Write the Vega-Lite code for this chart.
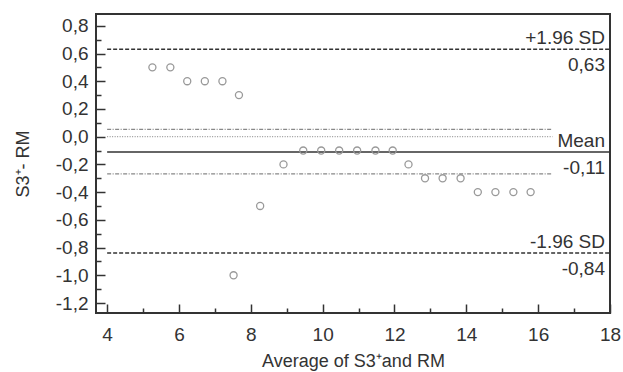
{
  "$schema": "https://vega.github.io/schema/vega-lite/v6.json",
  "width": 514,
  "height": 299,
  "autosize": {"type": "none"},
  "padding": {"left": 96, "top": 14, "right": 13, "bottom": 59},
  "background": "white",
  "config": {
    "view": {"stroke": "#333", "strokeWidth": 2},
    "font": "Liberation Sans",
    "axis": {
      "grid": false,
      "domain": false,
      "labelFont": "Liberation Sans",
      "titleFont": "Liberation Sans",
      "labelFontSize": 19,
      "titleFontSize": 18,
      "titleFontWeight": "normal",
      "labelColor": "#333",
      "titleColor": "#333",
      "tickColor": "#333",
      "tickWidth": 1.5,
      "labelOverlap": false
    }
  },
  "datasets": {
    "points": [
      {"avg": 5.26, "diff": 0.5},
      {"avg": 5.76, "diff": 0.5},
      {"avg": 6.23, "diff": 0.4},
      {"avg": 6.72, "diff": 0.4},
      {"avg": 7.21, "diff": 0.4},
      {"avg": 7.67, "diff": 0.3},
      {"avg": 7.52, "diff": -1.0},
      {"avg": 8.26, "diff": -0.5},
      {"avg": 8.91, "diff": -0.2},
      {"avg": 9.46, "diff": -0.1},
      {"avg": 9.96, "diff": -0.1},
      {"avg": 10.46, "diff": -0.1},
      {"avg": 10.96, "diff": -0.1},
      {"avg": 11.47, "diff": -0.1},
      {"avg": 11.95, "diff": -0.1},
      {"avg": 12.39, "diff": -0.2},
      {"avg": 12.85, "diff": -0.3},
      {"avg": 13.34, "diff": -0.3},
      {"avg": 13.84, "diff": -0.3},
      {"avg": 14.32, "diff": -0.4},
      {"avg": 14.81, "diff": -0.4},
      {"avg": 15.31, "diff": -0.4},
      {"avg": 15.79, "diff": -0.4}
    ],
    "lines": [
      {"kind": "loa", "x1": 4, "x2": 18, "y": 0.63},
      {"kind": "loa", "x1": 4, "x2": 18, "y": -0.84},
      {"kind": "mean", "x1": 4, "x2": 18, "y": -0.11},
      {"kind": "ci", "x1": 4, "x2": 16.4, "y": 0.052},
      {"kind": "ci", "x1": 4, "x2": 16.4, "y": -0.268},
      {"kind": "zero", "x1": 4, "x2": 16.4, "y": 0}
    ],
    "labels": [
      {"pos": "above", "text": "+1.96 SD", "y": 0.63},
      {"pos": "below", "text": "0,63", "y": 0.63},
      {"pos": "above", "text": "Mean", "y": -0.11},
      {"pos": "below", "text": "-0,11", "y": -0.11},
      {"pos": "above", "text": "-1.96 SD", "y": -0.84},
      {"pos": "below", "text": "-0,84", "y": -0.84}
    ]
  },
  "layer": [
    {
      "data": {"name": "lines"},
      "transform": [{"filter": "datum.kind == 'zero'"}],
      "mark": {"type": "rule", "color": "#999", "strokeWidth": 1.2, "strokeDash": [1, 1.5]},
      "encoding": {
        "x": {"field": "x1", "type": "quantitative"},
        "x2": {"field": "x2"},
        "y": {"field": "y", "type": "quantitative"}
      }
    },
    {
      "data": {"name": "lines"},
      "transform": [{"filter": "datum.kind == 'ci'"}],
      "mark": {"type": "rule", "color": "#888", "strokeWidth": 1.3, "strokeDash": [4, 1.5, 1, 1.5]},
      "encoding": {
        "x": {"field": "x1", "type": "quantitative"},
        "x2": {"field": "x2"},
        "y": {"field": "y", "type": "quantitative"}
      }
    },
    {
      "data": {"name": "lines"},
      "transform": [{"filter": "datum.kind == 'loa'"}],
      "mark": {"type": "rule", "color": "#333", "strokeWidth": 1.5, "strokeDash": [4, 2]},
      "encoding": {
        "x": {"field": "x1", "type": "quantitative"},
        "x2": {"field": "x2"},
        "y": {"field": "y", "type": "quantitative"}
      }
    },
    {
      "data": {"name": "lines"},
      "transform": [{"filter": "datum.kind == 'mean'"}],
      "mark": {"type": "rule", "color": "#333", "strokeWidth": 1.6},
      "encoding": {
        "x": {"field": "x1", "type": "quantitative"},
        "x2": {"field": "x2"},
        "y": {"field": "y", "type": "quantitative"}
      }
    },
    {
      "data": {"name": "points"},
      "mark": {"type": "point", "shape": "circle", "filled": false, "color": "#999", "strokeWidth": 1.3, "size": 50, "opacity": 1},
      "encoding": {
        "x": {
          "field": "avg",
          "type": "quantitative",
          "scale": {"domain": [3.69, 18], "nice": false, "zero": false},
          "axis": {
            "title": "Average of S3⁺and RM",
            "values": [4, 5, 6, 7, 8, 9, 10, 11, 12, 13, 14, 15, 16, 17, 18],
            "tickCount": 100,
            "labelExpr": "datum.value % 2 == 0 ? format(datum.value, 'd') : ''",
            "tickSize": {"condition": {"test": "datum.value % 2 == 1", "value": -5}, "value": -9},
            "labelPadding": 21,
            "titlePadding": 4,
            "labelOverlap": false,
            "labelFlush": false
          }
        },
        "y": {
          "field": "diff",
          "type": "quantitative",
          "scale": {"domain": [-1.272, 0.885], "nice": false, "zero": false},
          "axis": {
            "title": "S3⁺- RM",
            "values": [-1.2, -1.1, -1, -0.9, -0.8, -0.7, -0.6, -0.5, -0.4, -0.3, -0.2, -0.1, 0, 0.1, 0.2, 0.3, 0.4, 0.5, 0.6, 0.7, 0.8],
            "tickCount": 100,
            "labelExpr": "(abs(round(datum.value*10)) % 2) < 0.5 ? replace(replace(format(datum.value, '.1f'), '.', ','), '\u2212', '-') : ''",
            "tickSize": {"condition": {"test": "(abs(round(datum.value*10)) % 2) > 0.5", "value": -5}, "value": -9},
            "labelPadding": 17,
            "labelBaseline": "middle",
            "labelOverlap": false,
            "titlePadding": 23,
            "labelFlush": false
          }
        }
      }
    },
    {
      "data": {"name": "labels"},
      "transform": [{"filter": "datum.pos == 'above'"}],
      "mark": {"type": "text", "align": "right", "baseline": "alphabetic", "dx": -5, "dy": -5, "fontSize": 19, "color": "#333"},
      "encoding": {
        "x": {"datum": 18, "type": "quantitative"},
        "y": {"field": "y", "type": "quantitative"},
        "text": {"field": "text"}
      }
    },
    {
      "data": {"name": "labels"},
      "transform": [{"filter": "datum.pos == 'below'"}],
      "mark": {"type": "text", "align": "right", "baseline": "alphabetic", "dx": -5, "dy": 22, "fontSize": 19, "color": "#333"},
      "encoding": {
        "x": {"datum": 18, "type": "quantitative"},
        "y": {"field": "y", "type": "quantitative"},
        "text": {"field": "text"}
      }
    }
  ]
}
